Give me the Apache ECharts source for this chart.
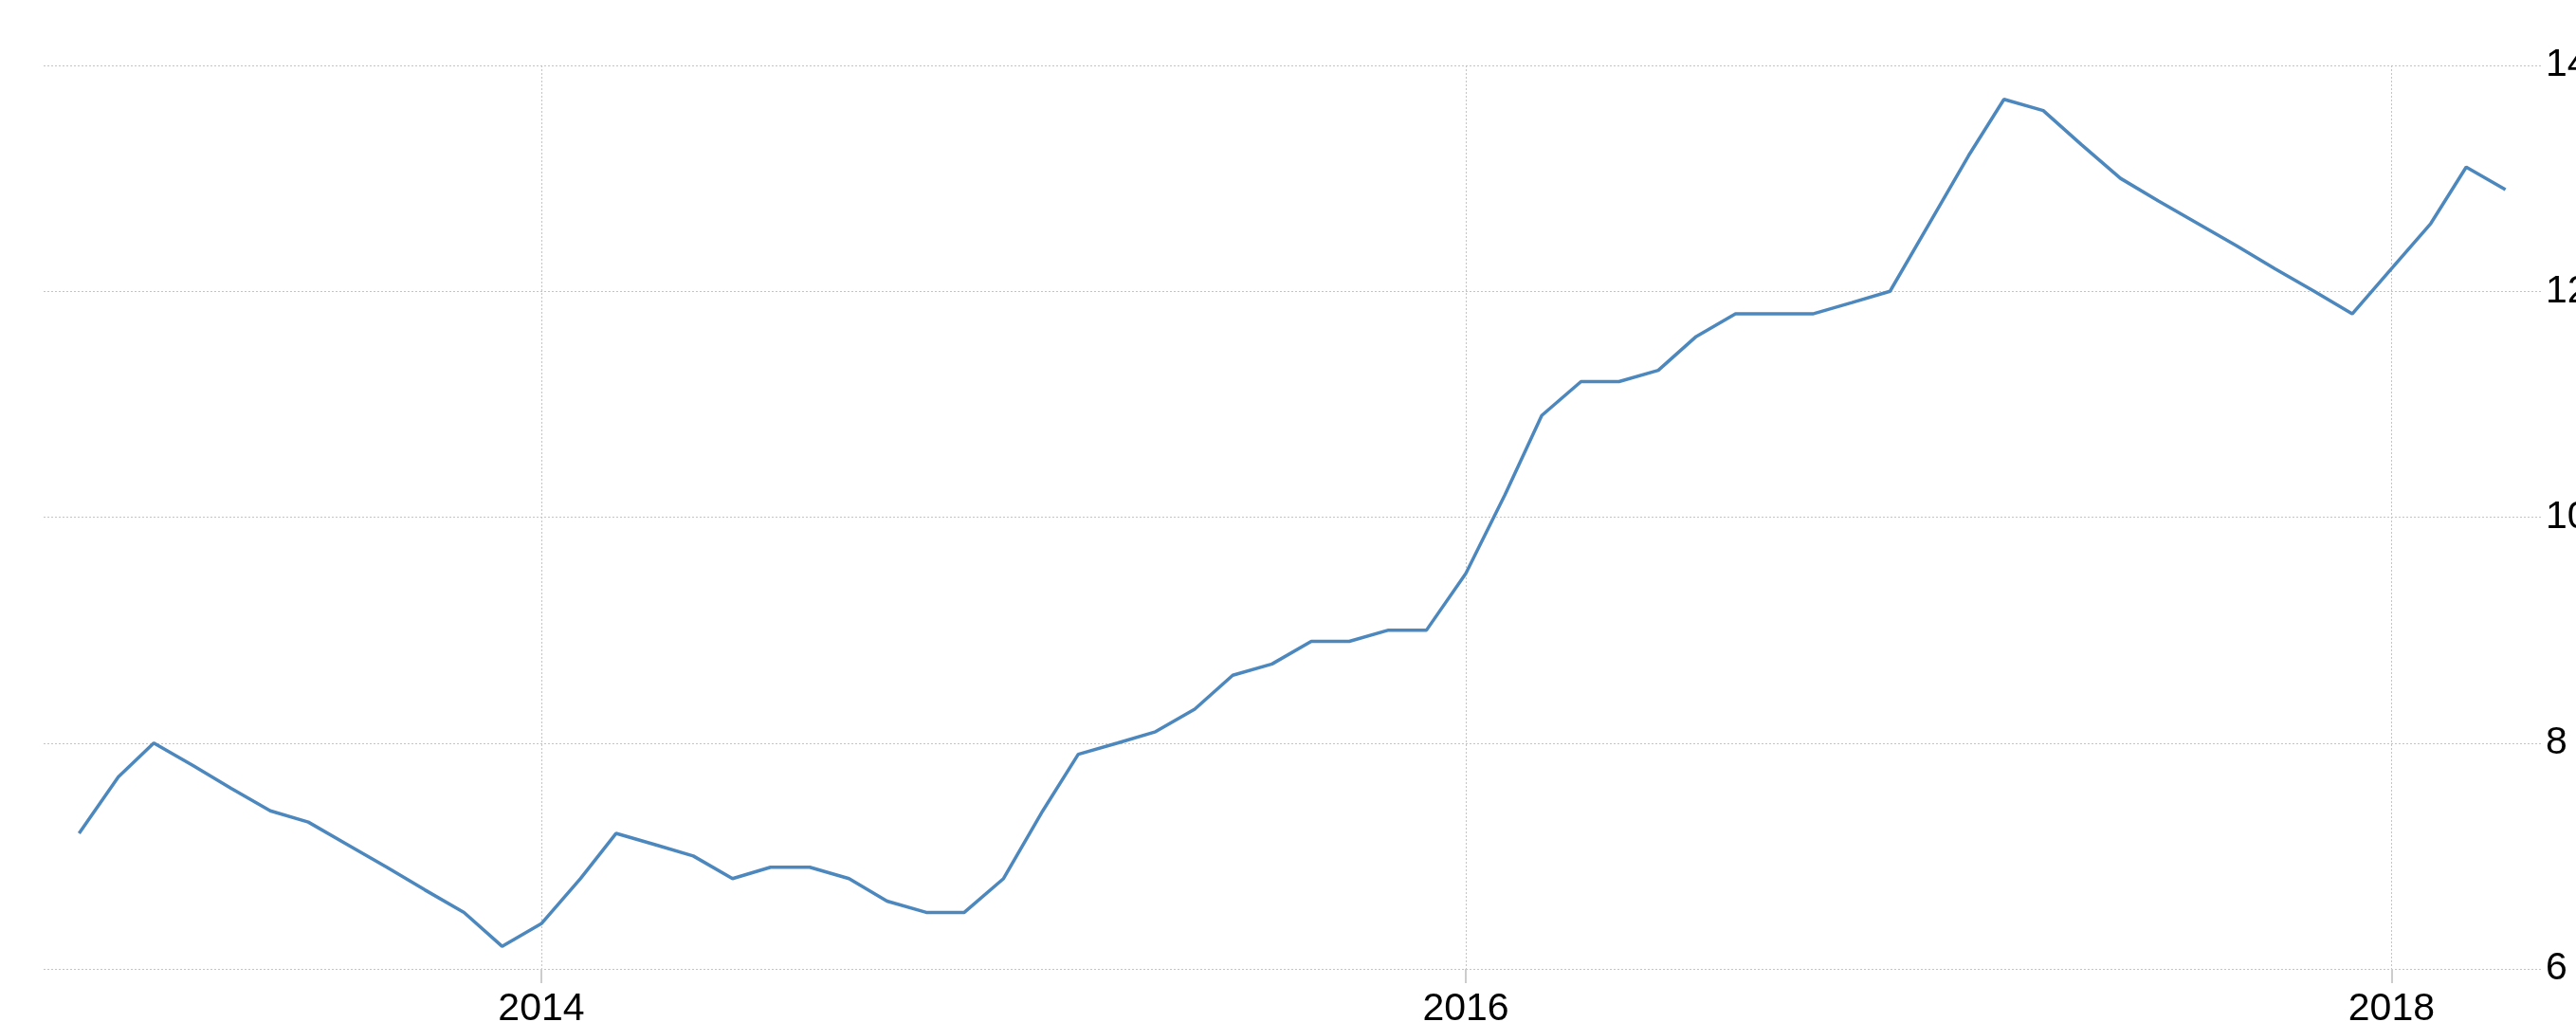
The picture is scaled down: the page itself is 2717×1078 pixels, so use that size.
<!DOCTYPE html>
<html><head><meta charset="utf-8">
<script src="https://cdn.jsdelivr.net/npm/echarts@6/dist/echarts.min.js"></script>
<style>html,body{margin:0;padding:0;background:#fff}#c{width:2717px;height:1078px}</style>
</head><body><div id="c"></div>
<script>
const months = [
  '2013-01','2013-02','2013-03','2013-04','2013-05','2013-06','2013-07','2013-08','2013-09','2013-10','2013-11','2013-12',
  '2014-01','2014-02','2014-03','2014-04','2014-05','2014-06','2014-07','2014-08','2014-09','2014-10','2014-11','2014-12',
  '2015-01','2015-02','2015-03','2015-04','2015-05','2015-06','2015-07','2015-08','2015-09','2015-10','2015-11','2015-12',
  '2016-01','2016-02','2016-03','2016-04','2016-05','2016-06','2016-07','2016-08','2016-09','2016-10','2016-11','2016-12',
  '2017-01','2017-02','2017-03','2017-04','2017-05','2017-06','2017-07','2017-08','2017-09','2017-10','2017-11','2017-12',
  '2018-01','2018-02','2018-03','2018-04'
];
const values = [
  7.2, 7.7, 8.0, 7.8, 7.6, 7.4, 7.3, 7.1, 6.9, 6.7, 6.5, 6.2,
  6.4, 6.8, 7.2, 7.1, 7.0, 6.8, 6.9, 6.9, 6.8, 6.6, 6.5, 6.5,
  6.8, 7.4, 7.9, 8.0, 8.1, 8.3, 8.6, 8.7, 8.9, 8.9, 9.0, 9.0,
  9.5, 10.2, 10.9, 11.2, 11.2, 11.3, 11.6, 11.8, 11.8, 11.8, 11.9, 12.0,
  12.6, 13.2, 13.7, 13.6, 13.3, 13.0, 12.8, 12.6, 12.4, 12.2, 12.0, 11.8,
  12.2, 12.6, 13.1, 12.9
];
const xTickDates = ['2014-01-01', '2016-01-01', '2018-01-01'];
const yMin = 6, yMax = 14, yStep = 2;
const xRange = ['2012-12-04', '2018-04-29'];

function ts(s) { const p = s.split('-').map(Number); return Date.UTC(p[0], p[1] - 1, p[2] || 1); }

const seriesData = months.map((m, i) => [ts(m + '-01'), values[i]]);
const xTicks = xTickDates.map(ts);

const chart = echarts.init(document.getElementById('c'), null, { renderer: 'canvas' });
const gridColor = '#c4c4c4';
const labelFont = { color: '#000000', fontFamily: 'Liberation Sans', fontSize: 41 };
chart.setOption({
  animation: false,
  backgroundColor: '#ffffff',
  grid: { left: 46, right: 37, top: 69, bottom: 56, containLabel: false, outerBoundsMode: 'none' },
  xAxis: {
    type: 'value',
    min: ts(xRange[0]),
    max: ts(xRange[1]),
    axisLine: { show: false },
    axisTick: { show: true, customValues: xTicks, length: 15, lineStyle: { color: '#cccccc', width: 2 } },
    axisLabel: Object.assign({
      customValues: xTicks,
      margin: 22,
      formatter: v => String(new Date(v).getUTCFullYear())
    }, labelFont),
    splitLine: { show: true, lineStyle: { color: gridColor, width: 1, type: [2, 2] } }
  },
  yAxis: {
    type: 'value',
    position: 'right',
    min: yMin, max: yMax, interval: yStep,
    axisLine: { show: false },
    axisTick: { show: false },
    axisLabel: Object.assign({ margin: 5 }, labelFont),
    splitLine: { show: true, lineStyle: { color: gridColor, width: 1, type: [2, 2] } }
  },
  series: [{
    type: 'line',
    data: seriesData,
    symbol: 'none',
    smooth: false,
    lineStyle: { color: '#4c88bd', width: 3.5 },
    itemStyle: { color: '#4c88bd' }
  }]
});
</script>
</body></html>
